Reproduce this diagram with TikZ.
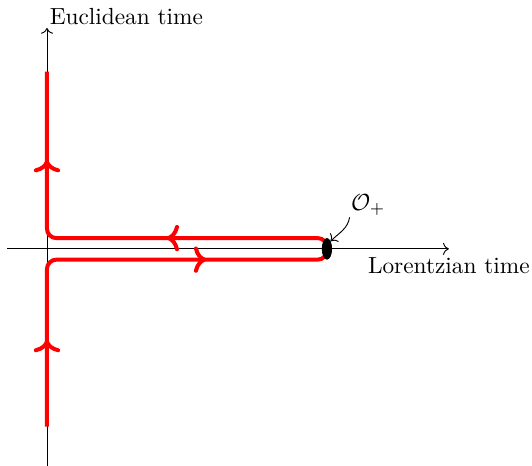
\documentclass[tikz,border=0pt]{standalone}
\usepackage{amsmath, amssymb}
\usetikzlibrary{arrows.meta, shapes.geometric, decorations.markings, positioning}

\begin{document}
\begin{tikzpicture}[scale=0.957,
  axis/.style={->, thin},
  contour/.style={red, line width=1.72pt, rounded corners=4pt,
    decoration={markings,
      mark=at position 1.31cm with {\arrow{>}},
      mark=at position 4.86cm with {\arrow{>}},
      mark=at position 9.30cm with {\arrow{>}},
      mark=at position 12.22cm with {\arrow{>}}},
    postaction={decorate}},
]
\useasboundingbox (-0.74,-3.42) rectangle (7.64,3.92);

% Axes
\draw[axis] (-0.63,0) -- (6.33,0) node[below] (lt) {Lorentzian time};
\draw[axis] (0,-3.42) -- (0,3.48) node[anchor=south west, inner sep=1pt] (et) {Euclidean time};

% Contour
\draw[contour] (0,-2.8) -- (0,-0.17) -- (4.41,-0.17) -- (4.41,0.17) -- (0,0.17) -- (0,2.79);

% Operator insertion
\node[draw, fill=black, ellipse, minimum width=0.14cm, minimum height=0.31cm, inner sep=0pt]
     (blob) at (4.41,0) {};
\node (Oplus) at (5.06,0.69) {$\mathcal{O}_+$};
\draw[->] ([xshift=3pt,yshift=3pt]Oplus.south west) to[out=-100, in=45] (blob.north east);
\end{tikzpicture}
\end{document}
